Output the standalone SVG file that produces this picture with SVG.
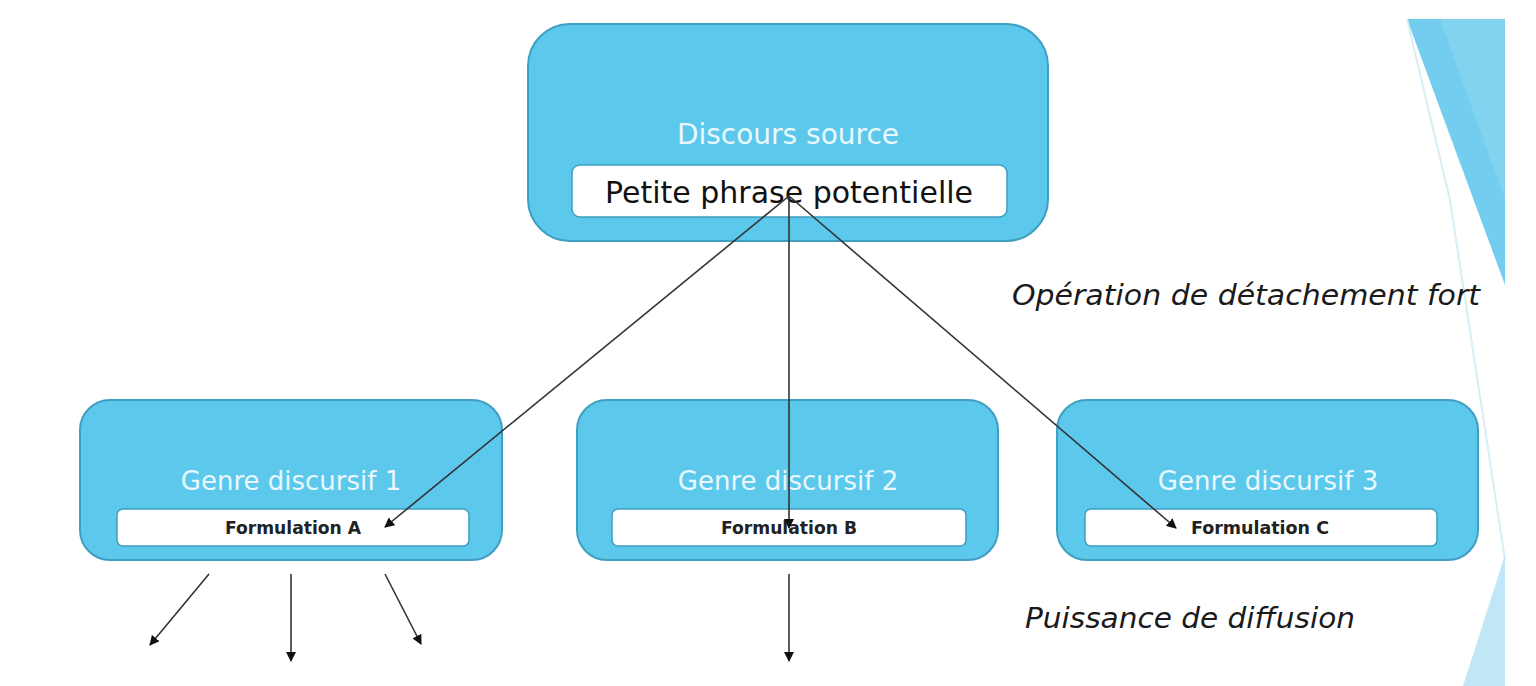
<svg xmlns="http://www.w3.org/2000/svg" width="1536" height="686" viewBox="0 0 1536 686">
<defs>
<style>
.box{fill:#5cc8ec;stroke:#3f9fc0;stroke-width:2}
.inner{fill:#ffffff;stroke:#3f9fc0;stroke-width:1.5}
.title{font-family:"DejaVu Sans","Liberation Sans",sans-serif;fill:#e8f8fd;text-anchor:middle}
.form{font-family:"DejaVu Sans Condensed","DejaVu Sans","Liberation Sans",sans-serif;fill:#222222;text-anchor:middle;font-weight:bold;font-size:17px}
.note{font-family:"DejaVu Sans","Liberation Sans",sans-serif;font-style:italic;fill:#1a1a1a;font-size:28px}
.con{stroke:#333333;stroke-width:1.6;fill:none;marker-end:url(#ah)}
</style>
<marker id="ah" viewBox="0 0 10 10" refX="9" refY="5" markerWidth="10" markerHeight="10" markerUnits="userSpaceOnUse" orient="auto">
<path d="M0,0 L10,5 L0,10 z" fill="#111111"/>
</marker>
</defs>
<rect width="1536" height="686" fill="#ffffff"/>
<g id="decor">
<polygon points="1407,19 1505,19 1505,285" fill="#72cdee"/>
<polygon points="1440,19 1505,19 1505,200" fill="#82d3f0"/>
<polyline points="1407,19 1450,200 1505,560" fill="none" stroke="#d7eef7" stroke-width="2"/>
<polygon points="1505,555 1505,686 1463,686" fill="#bfe7f6"/>
</g>
<g id="node-source">
<rect class="box" x="528" y="24" width="520" height="217" rx="42"/>
<text class="title" x="788" y="144" font-size="28">Discours source</text>
<rect class="inner" x="572" y="165" width="435" height="52" rx="8"/>
<text x="789" y="203" font-family="DejaVu Sans,Liberation Sans,sans-serif" font-size="30" fill="#111111" text-anchor="middle">Petite phrase potentielle</text>
</g>
<g id="node-genre1">
<rect class="box" x="80" y="400" width="422" height="160" rx="30"/>
<text class="title" x="291" y="490" font-size="26">Genre discursif 1</text>
<rect class="inner" x="117" y="509" width="352" height="37" rx="6"/>
<text class="form" x="293" y="534" textLength="136" lengthAdjust="spacingAndGlyphs">Formulation A</text>
</g>
<g id="node-genre2">
<rect class="box" x="577" y="400" width="421" height="160" rx="30"/>
<text class="title" x="788" y="490" font-size="26">Genre discursif 2</text>
<rect class="inner" x="612" y="509" width="354" height="37" rx="6"/>
<text class="form" x="789" y="534" textLength="136" lengthAdjust="spacingAndGlyphs">Formulation B</text>
</g>
<g id="node-genre3">
<rect class="box" x="1057" y="400" width="421" height="160" rx="30"/>
<text class="title" x="1268" y="490" font-size="26">Genre discursif 3</text>
<rect class="inner" x="1085" y="509" width="352" height="37" rx="6"/>
<text class="form" x="1260" y="534" textLength="138" lengthAdjust="spacingAndGlyphs">Formulation C</text>
</g>
<g id="labels">
<text class="note" x="1012" y="305" textLength="468" lengthAdjust="spacingAndGlyphs">Opération de détachement fort</text>
<text class="note" x="1025" y="628" textLength="330" lengthAdjust="spacingAndGlyphs">Puissance de diffusion</text>
</g>
<g id="connectors">
<line class="con" x1="789" y1="196" x2="385" y2="527"/>
<line class="con" x1="789" y1="196" x2="789" y2="528"/>
<line class="con" x1="789" y1="196" x2="1176" y2="528"/>
<line class="con" x1="209" y1="574" x2="150" y2="645"/>
<line class="con" x1="291" y1="574" x2="291" y2="661"/>
<line class="con" x1="385" y1="574" x2="421" y2="644"/>
<line class="con" x1="789" y1="574" x2="789" y2="661"/>
</g>
</svg>
